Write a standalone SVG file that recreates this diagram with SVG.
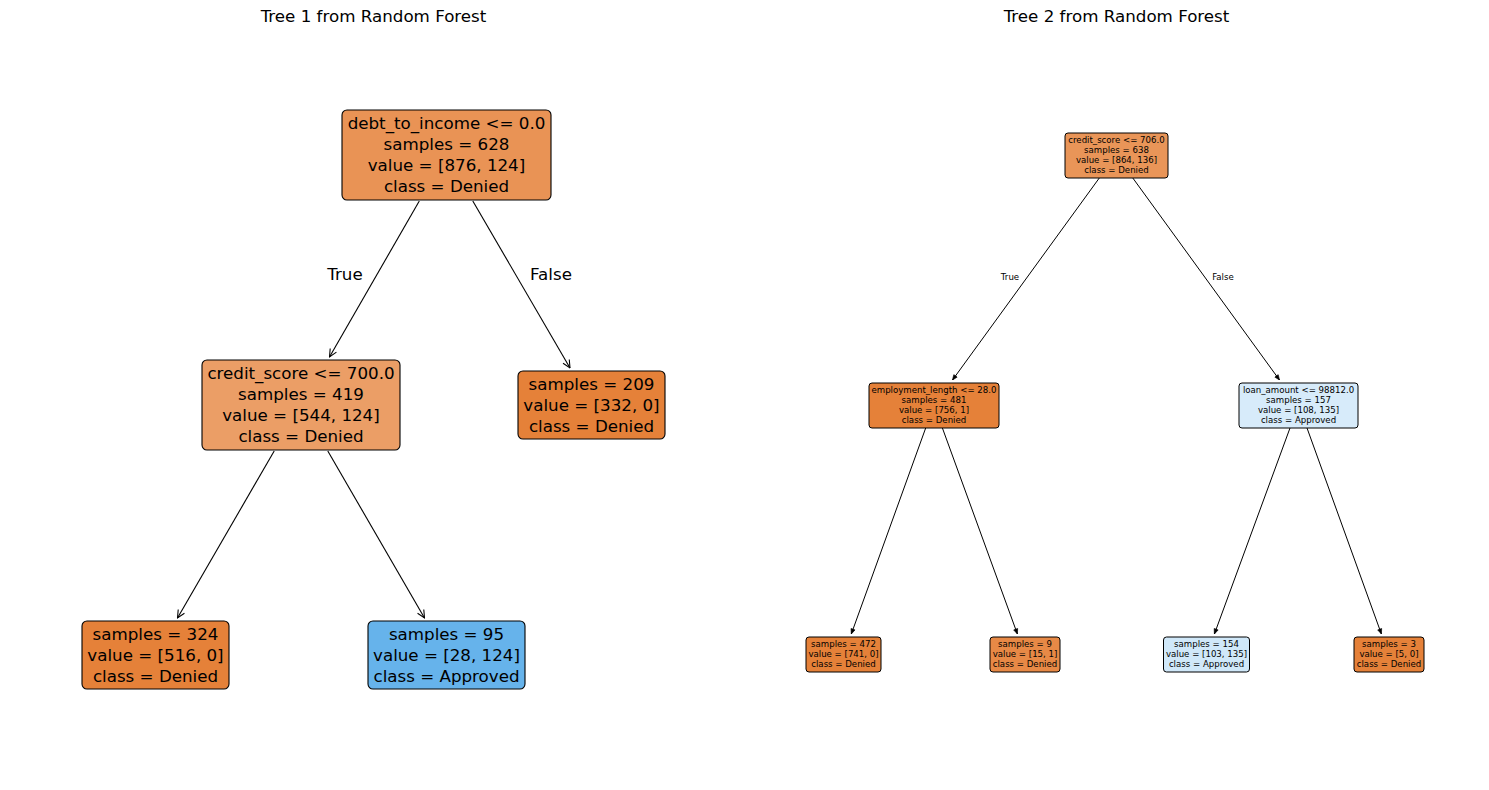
<svg xmlns="http://www.w3.org/2000/svg" width="1489" height="790" viewBox="0 0 1489 790">
<defs>
<style>
text{font-family:"DejaVu Sans","Liberation Sans",sans-serif;fill:#000;text-anchor:middle}
.t{font-size:16.7px}
.s{font-size:8.6px}
.b1{stroke:#000;stroke-width:1.1}
.b2{stroke:#000;stroke-width:1}
.e1{stroke:#000;stroke-width:1.1;fill:none;marker-end:url(#a1)}
.e2{stroke:#000;stroke-width:1;fill:none;marker-end:url(#a2)}
</style>
<marker id="a1" viewBox="0 0 10 10" refX="9.5" refY="5" markerWidth="9" markerHeight="9" markerUnits="userSpaceOnUse" orient="auto">
<path d="M1,1 L9.5,5 L1,9" fill="none" stroke="#000" stroke-width="1.2"/>
</marker>
<marker id="a2" viewBox="0 0 10 10" refX="9.5" refY="5" markerWidth="6" markerHeight="6" markerUnits="userSpaceOnUse" orient="auto">
<path d="M1,1.5 L9.5,5 L1,8.5 Z" fill="#000" stroke="#000" stroke-width="1"/>
</marker>
</defs>
<rect width="1489" height="790" fill="#fff"/>
<text class="t" x="373.5" y="22">Tree 1 from Random Forest</text>
<text class="t" x="1116.5" y="22">Tree 2 from Random Forest</text>

<g id="connectors">
<line class="e1" x1="419.3" y1="201" x2="329.5" y2="357"/>
<line class="e1" x1="472.8" y1="201" x2="570" y2="368"/>
<line class="e1" x1="274.2" y1="451" x2="177.5" y2="618"/>
<line class="e1" x1="327.8" y1="451" x2="424.5" y2="618"/>
<text class="t" x="345" y="279.5">True</text>
<text class="t" x="551" y="279.5">False</text>
<line class="e2" x1="1099.3" y1="178" x2="952.5" y2="380"/>
<line class="e2" x1="1132.8" y1="178" x2="1279.5" y2="380"/>
<line class="e2" x1="925.7" y1="428" x2="851.3" y2="634"/>
<line class="e2" x1="942.4" y1="428" x2="1017.4" y2="634"/>
<line class="e2" x1="1290" y1="428" x2="1214.4" y2="634"/>
<line class="e2" x1="1307" y1="428" x2="1381.4" y2="634"/>
<text class="s" x="1010" y="280">True</text>
<text class="s" x="1223" y="280">False</text>
</g>

<g id="t1-root">
<rect class="b1" x="342" y="110" width="209" height="90" rx="5" fill="#e99355"/>
<text class="t" x="446.5" y="129">debt_to_income &lt;= 0.0</text>
<text class="t" x="446.5" y="150">samples = 628</text>
<text class="t" x="446.5" y="171">value = [876, 124]</text>
<text class="t" x="446.5" y="192">class = Denied</text>
</g>
<g id="t1-credit">
<rect class="b1" x="202" y="360" width="198" height="90" rx="5" fill="#eb9e66"/>
<text class="t" x="301" y="379">credit_score &lt;= 700.0</text>
<text class="t" x="301" y="400">samples = 419</text>
<text class="t" x="301" y="421">value = [544, 124]</text>
<text class="t" x="301" y="442">class = Denied</text>
</g>
<g id="t1-leaf209">
<rect class="b1" x="518" y="371" width="147" height="68" rx="5" fill="#e58139"/>
<text class="t" x="591.5" y="389.5">samples = 209</text>
<text class="t" x="591.5" y="410.5">value = [332, 0]</text>
<text class="t" x="591.5" y="431.5">class = Denied</text>
</g>
<g id="t1-leaf324">
<rect class="b1" x="82" y="621" width="147" height="68" rx="5" fill="#e58139"/>
<text class="t" x="155.5" y="639.5">samples = 324</text>
<text class="t" x="155.5" y="660.5">value = [516, 0]</text>
<text class="t" x="155.5" y="681.5">class = Denied</text>
</g>
<g id="t1-leaf95">
<rect class="b1" x="368" y="621" width="157" height="68" rx="5" fill="#66b3eb"/>
<text class="t" x="446.5" y="639.5">samples = 95</text>
<text class="t" x="446.5" y="660.5">value = [28, 124]</text>
<text class="t" x="446.5" y="681.5">class = Approved</text>
</g>

<g id="t2-root">
<rect class="b2" x="1065" y="133" width="103" height="45" rx="3" fill="#e99558"/>
<text class="s" x="1116.5" y="143">credit_score &lt;= 706.0</text>
<text class="s" x="1116.5" y="153">samples = 638</text>
<text class="s" x="1116.5" y="163">value = [864, 136]</text>
<text class="s" x="1116.5" y="173">class = Denied</text>
</g>
<g id="t2-employment">
<rect class="b2" x="869" y="383" width="130" height="45" rx="3" fill="#e58139"/>
<text class="s" x="934" y="393">employment_length &lt;= 28.0</text>
<text class="s" x="934" y="403">samples = 481</text>
<text class="s" x="934" y="413">value = [756, 1]</text>
<text class="s" x="934" y="423">class = Denied</text>
</g>
<g id="t2-loan">
<rect class="b2" x="1239" y="383" width="119" height="45" rx="3" fill="#d7ebfa"/>
<text class="s" x="1298.5" y="393">loan_amount &lt;= 98812.0</text>
<text class="s" x="1298.5" y="403">samples = 157</text>
<text class="s" x="1298.5" y="413">value = [108, 135]</text>
<text class="s" x="1298.5" y="423">class = Approved</text>
</g>
<g id="t2-leaf472">
<rect class="b2" x="806" y="637" width="75" height="35" rx="3" fill="#e58139"/>
<text class="s" x="843.5" y="647">samples = 472</text>
<text class="s" x="843.5" y="657">value = [741, 0]</text>
<text class="s" x="843.5" y="667">class = Denied</text>
</g>
<g id="t2-leaf9">
<rect class="b2" x="990" y="637" width="70" height="35" rx="3" fill="#e78946"/>
<text class="s" x="1025" y="647">samples = 9</text>
<text class="s" x="1025" y="657">value = [15, 1]</text>
<text class="s" x="1025" y="667">class = Denied</text>
</g>
<g id="t2-leaf154">
<rect class="b2" x="1163.5" y="637" width="86" height="35" rx="3" fill="#d0e8f9"/>
<text class="s" x="1206.5" y="647">samples = 154</text>
<text class="s" x="1206.5" y="657">value = [103, 135]</text>
<text class="s" x="1206.5" y="667">class = Approved</text>
</g>
<g id="t2-leaf3">
<rect class="b2" x="1354" y="637" width="70" height="35" rx="3" fill="#e58139"/>
<text class="s" x="1389" y="647">samples = 3</text>
<text class="s" x="1389" y="657">value = [5, 0]</text>
<text class="s" x="1389" y="667">class = Denied</text>
</g>
</svg>
